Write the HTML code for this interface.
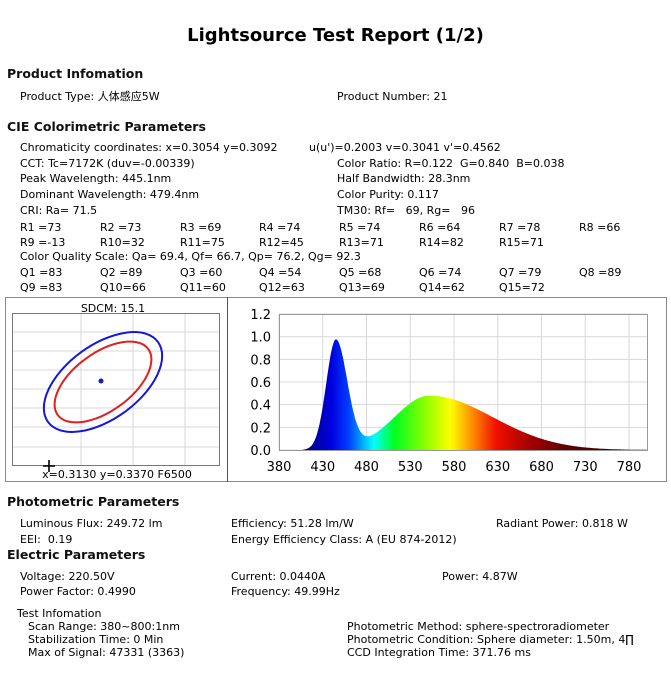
<!DOCTYPE html>
<html><head><meta charset="utf-8">
<style>
body{margin:0;width:671px;height:693px;background:#fff;position:relative;overflow:hidden;font-family:"DejaVu Sans","Noto Sans CJK SC",sans-serif;color:#000}
.t{position:absolute;font-size:11px;line-height:14px;white-space:pre}
.h{position:absolute;font-size:12.5px;line-height:16px;font-weight:bold;white-space:pre;color:#111}
</style></head><body>
<div style="position:absolute;left:0;width:671px;top:24px;text-align:center;font-size:18px;font-weight:bold;line-height:24px">Lightsource Test Report (1/2)</div>
<div class="h" style="left:7px;top:66px">Product Infomation</div>
<div class="t" style="left:20px;top:90px">Product Type: 人体感应5W</div>
<div class="t" style="left:337px;top:90px">Product Number: 21</div>
<div class="h" style="left:7px;top:119px">CIE Colorimetric Parameters</div>
<div class="t" style="left:20px;top:141px">Chromaticity coordinates: x=0.3054 y=0.3092</div>
<div class="t" style="left:309px;top:141px">u(u')=0.2003 v=0.3041 v'=0.4562</div>
<div class="t" style="left:20px;top:157px">CCT: Tc=7172K (duv=-0.00339)</div>
<div class="t" style="left:337px;top:157px">Color Ratio: R=0.122  G=0.840  B=0.038</div>
<div class="t" style="left:20px;top:172px">Peak Wavelength: 445.1nm</div>
<div class="t" style="left:337px;top:172px">Half Bandwidth: 28.3nm</div>
<div class="t" style="left:20px;top:188px">Dominant Wavelength: 479.4nm</div>
<div class="t" style="left:337px;top:188px">Color Purity: 0.117</div>
<div class="t" style="left:20px;top:204px">CRI: Ra= 71.5</div>
<div class="t" style="left:337px;top:204px">TM30: Rf=   69, Rg=   96</div>
<div id="grid"></div>
<div class="t" style="left:20px;top:250px">Color Quality Scale: Qa= 69.4, Qf= 66.7, Qp= 76.2, Qg= 92.3</div>

<div style="position:absolute;left:5px;top:297px;width:662px;height:185px;border:1px solid #888;box-sizing:border-box"></div>
<div style="position:absolute;left:227px;top:297px;width:1px;height:185px;background:#555"></div>

<svg style="position:absolute;left:0;top:0" width="671" height="693">
 <g stroke="#d8d8d8" stroke-width="1">
  <line x1="81" y1="313" x2="81" y2="466"/><line x1="133" y1="313" x2="133" y2="466"/><line x1="185" y1="313" x2="185" y2="466"/>
  <line x1="12" y1="332" x2="220" y2="332"/><line x1="12" y1="351" x2="220" y2="351"/><line x1="12" y1="370" x2="220" y2="370"/>
  <line x1="12" y1="389" x2="220" y2="389"/><line x1="12" y1="408" x2="220" y2="408"/><line x1="12" y1="427" x2="220" y2="427"/>
  <line x1="12" y1="447" x2="220" y2="447"/>
 </g>
 <rect x="12.5" y="313.5" width="207" height="152" fill="none" stroke="#777"/>
 <ellipse cx="103" cy="382" rx="68" ry="37" transform="rotate(-36 103 382)" fill="none" stroke="#1515e0" stroke-width="2"/>
 <ellipse cx="103" cy="382" rx="56" ry="29" transform="rotate(-36 103 382)" fill="none" stroke="#e02020" stroke-width="2"/>
 <circle cx="101" cy="381" r="2.5" fill="#1515e0"/>
 <path d="M43 466H55M49 460V472" stroke="#000" stroke-width="1.6"/>
 <text x="113" y="312" font-size="11" text-anchor="middle" font-family="DejaVu Sans">SDCM:  15.1</text>
 <text x="117" y="478" font-size="11" text-anchor="middle" font-family="DejaVu Sans">x=0.3130 y=0.3370 F6500</text>
 <defs>
  <linearGradient id="sp" gradientUnits="userSpaceOnUse" x1="279" y1="0" x2="629" y2="0">
   <stop offset="0.06" stop-color="#000070"/>
   <stop offset="0.15" stop-color="#0000e0"/>
   <stop offset="0.2" stop-color="#0040ff"/>
   <stop offset="0.235" stop-color="#00a0ff"/>
   <stop offset="0.27" stop-color="#00ffff"/>
   <stop offset="0.33" stop-color="#00ff20"/>
   <stop offset="0.42" stop-color="#90ff00"/>
   <stop offset="0.49" stop-color="#ffff00"/>
   <stop offset="0.55" stop-color="#ff9000"/>
   <stop offset="0.62" stop-color="#f01000"/>
   <stop offset="0.72" stop-color="#a00000"/>
   <stop offset="0.82" stop-color="#600000"/>
   <stop offset="1" stop-color="#400000"/>
  </linearGradient>
 </defs>
 <g id="sgrid" stroke="#d8d8d8" stroke-width="1"></g>
 <path id="spec" fill="url(#sp)"/>
 <rect x="279.5" y="314.5" width="368" height="136" fill="none" stroke="#999"/>
 <g id="slab" font-size="13" font-family="DejaVu Sans" fill="#000"></g>
</svg>

<div class="h" style="left:7px;top:494px">Photometric Parameters</div>
<div class="t" style="left:20px;top:517px">Luminous Flux: 249.72 lm</div>
<div class="t" style="left:231px;top:517px">Efficiency: 51.28 lm/W</div>
<div class="t" style="left:496px;top:517px">Radiant Power: 0.818 W</div>
<div class="t" style="left:20px;top:533px">EEI:  0.19</div>
<div class="t" style="left:231px;top:533px">Energy Efficiency Class: A (EU 874-2012)</div>
<div class="h" style="left:7px;top:547px">Electric Parameters</div>
<div class="t" style="left:20px;top:570px">Voltage: 220.50V</div>
<div class="t" style="left:231px;top:570px">Current: 0.0440A</div>
<div class="t" style="left:442px;top:570px">Power: 4.87W</div>
<div class="t" style="left:20px;top:585px">Power Factor: 0.4990</div>
<div class="t" style="left:231px;top:585px">Frequency: 49.99Hz</div>
<div class="t" style="left:17px;top:607px">Test Infomation</div>
<div class="t" style="left:28px;top:620px">Scan Range: 380~800:1nm</div>
<div class="t" style="left:28px;top:633px">Stabilization Time: 0 Min</div>
<div class="t" style="left:28px;top:646px">Max of Signal: 47331 (3363)</div>
<div class="t" style="left:347px;top:620px">Photometric Method: sphere-spectroradiometer</div>
<div class="t" style="left:347px;top:633px">Photometric Condition: Sphere diameter: 1.50m, 4∏</div>
<div class="t" style="left:347px;top:646px">CCD Integration Time: 371.76 ms</div>

<script>
var rows=[[228,["R1 =73","R2 =73","R3 =69","R4 =74","R5 =74","R6 =64","R7 =78","R8 =66"]],
[243,["R9 =-13","R10=32","R11=75","R12=45","R13=71","R14=82","R15=71"]],
[273,["Q1 =83","Q2 =89","Q3 =60","Q4 =54","Q5 =68","Q6 =74","Q7 =79","Q8 =89"]],
[288,["Q9 =83","Q10=66","Q11=60","Q12=63","Q13=69","Q14=62","Q15=72"]]];
var xs=[20,100,180,259,339,419,499,579],h="";
rows.forEach(function(r){r[1].forEach(function(s,i){h+='<div class="t" style="left:'+xs[i]+'px;top:'+(r[0]-7)+'px">'+s+'</div>';});});
document.getElementById("grid").innerHTML=h;
function X(w){return 279+(w-380)*350/400;}
function Y(v){return 450-v*113.3;}
var g=document.getElementById("sgrid"),lab=document.getElementById("slab"),s="",l="";
for(var w=380;w<=780;w+=50){s+='<line x1="'+X(w)+'" y1="314" x2="'+X(w)+'" y2="450"/>';l+='<text x="'+X(w)+'" y="471" text-anchor="middle">'+w+'</text>';}
for(var v=0;v<=6;v++){var y=Y(v*0.2);s+='<line x1="279" y1="'+y+'" x2="647" y2="'+y+'"/>';l+='<text x="271" y="'+(y+5)+'" text-anchor="end">'+(v*0.2).toFixed(1)+'</text>';}
g.innerHTML=s;lab.innerHTML=l;
function f(w){
 var b=w<445?Math.exp(-Math.pow((w-445)/11,2)/2):Math.exp(-Math.pow((w-445)/13,2)/2);
 var sg=w<552?40:72;
 var p=0.48*Math.exp(-Math.pow((w-552)/sg,2)/2);
 if(w<470)p*=Math.max(0,(w-420)/50);
 var v=b*0.97+p;
 if(w<408)v=0;
 return v;}
var d="M"+X(405)+" "+Y(0);
for(var w=405;w<=800;w+=1){d+=" L"+X(w).toFixed(1)+" "+Y(f(w)).toFixed(1);}
d+=" L"+X(800)+" "+Y(0)+"Z";
document.getElementById("spec").setAttribute("d",d);
</script>
</body></html>
